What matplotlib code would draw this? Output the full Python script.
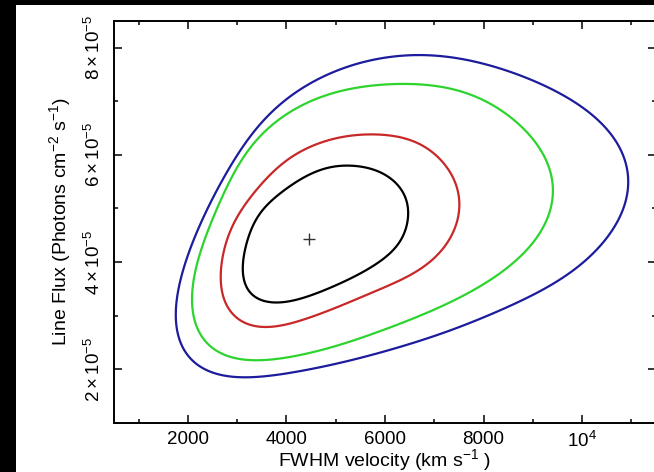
import matplotlib
matplotlib.use("Agg")
import matplotlib.pyplot as plt
from matplotlib.patches import Rectangle, Polygon
import numpy as np

plt.rcParams['font.family'] = ['Liberation Sans', 'DejaVu Sans']
plt.rcParams['mathtext.fontset'] = 'custom'
plt.rcParams['mathtext.rm'] = 'Liberation Sans'
plt.rcParams['mathtext.it'] = 'Liberation Sans:italic'

# confidence contours, FWHM in km/s, flux in units of 1e-5 photons/cm2/s
blue_v = [6503, 6970, 7517, 8329, 9343, 10154, 10621, 10905, 10986, 10905, 10702,
          10499, 9951, 9140, 8329, 7314, 6300, 5489, 4475, 3460, 2791, 2243, 1899,
          1777, 1757, 1838, 1980, 2183, 2304, 2446, 2649, 3116, 3663, 4272, 4941, 5753]
blue_f = [7.85, 7.85, 7.81, 7.59, 7.22, 6.79, 6.34, 5.91, 5.53, 5.03, 4.79,
          4.47, 3.91, 3.48, 3.10, 2.73, 2.41, 2.22, 2.02, 1.89, 1.87, 1.98, 2.22,
          2.67, 3.05, 3.61, 4.04, 4.54, 4.79, 5.10, 5.40, 6.15, 6.79, 7.22, 7.53, 7.78]

green_v = [6503, 6970, 7659, 8329, 8876, 9282, 9424, 9404, 9140, 8592, 7781, 6970,
           6300, 5489, 4475, 3460, 2791, 2385, 2142, 2081, 2183, 2385, 2649, 2852,
           3318, 3927, 4678, 5489]
green_f = [7.31, 7.29, 7.16, 6.84, 6.41, 5.91, 5.48, 5.03, 4.54, 3.98, 3.48, 3.10,
           2.86, 2.58, 2.32, 2.19, 2.22, 2.41, 2.79, 3.29, 3.91, 4.54, 5.03, 5.53,
           6.22, 6.71, 7.08, 7.25]

red_v = [6503, 6706, 7112, 7416, 7517, 7477, 7375, 6970, 6300, 5834, 5022, 4272,
         3663, 3197, 2852, 2690, 2690, 2791, 2994, 3460, 4008, 4678, 5489, 6158]
red_f = [6.28, 6.22, 5.91, 5.53, 5.16, 4.79, 4.54, 4.04, 3.66, 3.48, 3.16, 2.92,
         2.79, 2.82, 3.05, 3.42, 3.91, 4.41, 4.84, 5.40, 5.91, 6.22, 6.37, 6.34]

black_v = [6300, 6462, 6462, 6300, 5834, 5144, 4475, 3866, 3460, 3217, 3116, 3156,
           3318, 3420, 3805, 4272, 4820, 5347, 5895]
black_f = [5.40, 5.10, 4.84, 4.36, 3.98, 3.63, 3.38, 3.25, 3.29, 3.44, 3.79, 4.17,
           4.65, 4.88, 5.22, 5.53, 5.76, 5.79, 5.68]

best_v = 4450
best_f = 4.43

x_ticks = [2000, 4000, 6000, 8000, 10000]
x_labels = ['2000', '4000', '6000', '8000', r'$\mathregular{10^4}$']
y_ticks = [2, 4, 6, 8]
y_labels = [r'$\mathregular{%d\times10^{-5}}$' % v for v in y_ticks]


def smooth_closed(xs, ys, order=10, lam=0.008, n=500):
    # penalised Fourier fit of the closed curve, parameter = arc length
    x = np.asarray(xs, float) / 1000.0 * 49.3
    y = np.asarray(ys, float) * 53.5
    xc = np.append(x, x[0])
    yc = np.append(y, y[0])
    d = np.hypot(np.diff(xc), np.diff(yc))
    s = np.concatenate([[0], np.cumsum(d)[:-1]]) / d.sum() * 2 * np.pi

    def basis(t):
        cols = [np.ones_like(t)]
        for k in range(1, order + 1):
            cols += [np.cos(k * t), np.sin(k * t)]
        return np.column_stack(cols)

    ks = np.concatenate([[0]] + [[k, k] for k in range(1, order + 1)]).astype(float)
    A = basis(s)
    M = A.T @ A + lam * np.diag(ks ** 4)
    cx = np.linalg.solve(M, A.T @ x)
    cy = np.linalg.solve(M, A.T @ y)
    t = np.linspace(0, 2 * np.pi, n, endpoint=False)
    B = basis(t)
    return np.column_stack([B @ cx / 49.3 * 1000.0, B @ cy / 53.5])


fig = plt.figure(figsize=(6.54, 4.72), dpi=100)
fig.patch.set_facecolor('black')
fig.add_artist(Rectangle((16 / 654, 0), 1, 467 / 472, transform=fig.transFigure,
                         facecolor='white', edgecolor='none', zorder=-10))

ax = fig.add_axes([114 / 654, 49 / 472, 542 / 654, 402.3 / 472])

for xs, ys, col in [(blue_v, blue_f, '#1c1c9c'), (green_v, green_f, '#2ed42e'),
                    (red_v, red_f, '#c82828'), (black_v, black_f, 'black')]:
    ax.add_patch(Polygon(smooth_closed(xs, ys), closed=True, fill=False,
                         edgecolor=col, lw=1.6))

ax.plot(best_v, best_f, marker='+', color='#333333', ms=8, mew=1.0)

ax.set_xlim(500, 11500)
ax.set_ylim(1.0, 8.5)
ax.set_xticks(x_ticks)
ax.set_xticklabels(x_labels)
ax.set_xticks(np.arange(1000, 11001, 1000), minor=True)
ax.set_yticks(y_ticks)
ax.set_yticklabels(y_labels, rotation=90, va='center')
ax.set_yticks(np.arange(1, 9, 1), minor=True)

ax.tick_params(which='both', direction='in', top=True, right=True, width=1.1,
               labelsize=13.5, colors='black')
ax.tick_params(which='major', length=6)
ax.tick_params(which='minor', length=3)
ax.tick_params(axis='x', pad=6)
ax.tick_params(axis='y', pad=7)
for s in ax.spines.values():
    s.set_linewidth(1.4)

ax.set_xlabel(r'FWHM velocity (km s$^{-1}$ )', fontsize=14, labelpad=-3)
ax.set_ylabel(r'Line Flux (Photons cm$^{-2}$ s$^{-1}$)', fontsize=14, labelpad=8)

fig.savefig('out.png', dpi=100, facecolor=fig.get_facecolor())
